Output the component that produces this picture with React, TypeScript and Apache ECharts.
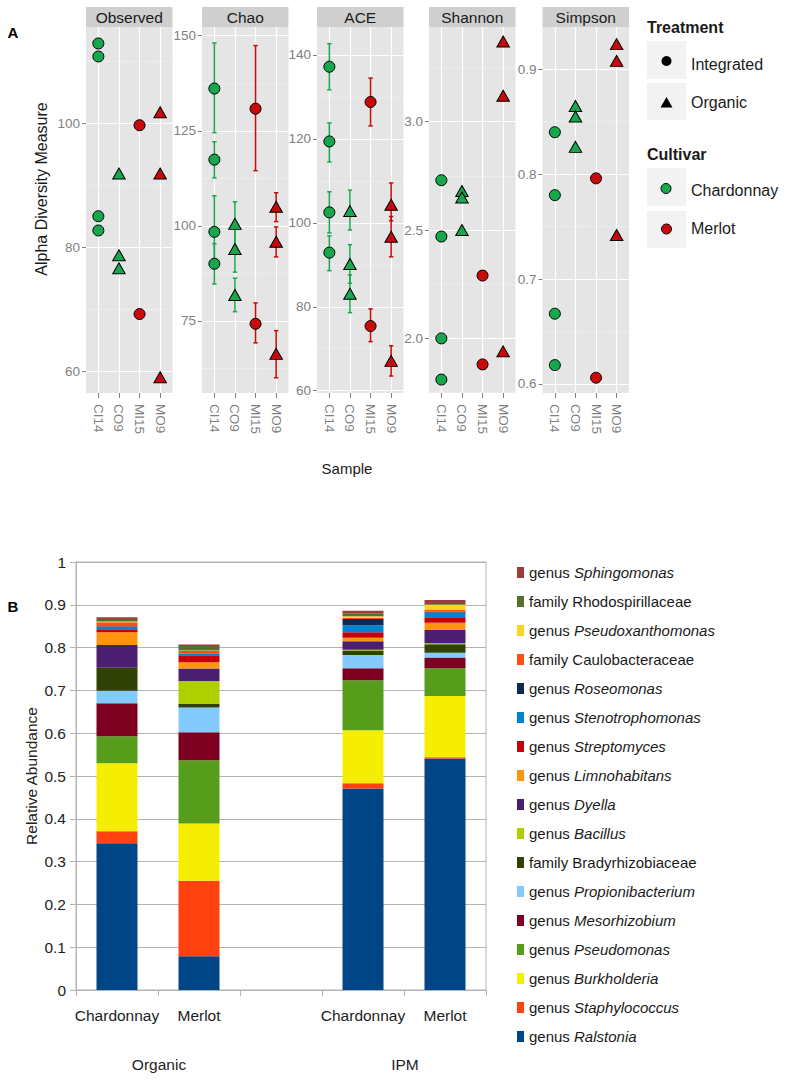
import React, { useEffect, useRef } from 'react';
import * as echarts from 'echarts';

// ---------- Panel A data ----------
const samples = ['CI14', 'CO9', 'MI15', 'MO9'];
const metrics = ['Observed', 'Chao', 'ACE', 'Shannon', 'Simpson'];

// [sample, value]
const observedRows: any[] = [
  ['CI14', 112.9], ['CI14', 110.8], ['CI14', 85.0], ['CI14', 82.7],
  ['CO9', 91.9], ['CO9', 78.7], ['CO9', 76.6],
  ['MI15', 99.7], ['MI15', 69.2],
  ['MO9', 101.8], ['MO9', 91.9], ['MO9', 59.0],
];
// [sample, value, low, high]
const chaoRows: any[] = [
  ['CI14', 136.1, 124.5, 148.1], ['CI14', 117.4, 112.6, 122.1], ['CI14', 98.4, 89.0, 107.9], ['CI14', 90.0, 84.7, 95.3],
  ['CO9', 100.5, 94.7, 106.3], ['CO9', 93.9, 87.8, 100.0], ['CO9', 81.8, 77.4, 86.2],
  ['MI15', 130.8, 114.5, 147.4], ['MI15', 74.2, 69.2, 79.7],
  ['MO9', 105.0, 101.1, 108.7], ['MO9', 95.8, 91.8, 99.7], ['MO9', 66.3, 60.0, 72.4],
];
const aceRows: any[] = [
  ['CI14', 137.2, 131.7, 142.7], ['CI14', 119.4, 114.5, 123.8], ['CI14', 102.5, 97.6, 107.4], ['CI14', 92.9, 88.6, 96.9],
  ['CO9', 102.8, 98.3, 107.8], ['CO9', 90.2, 85.6, 94.8], ['CO9', 83.1, 78.6, 87.6],
  ['MI15', 128.8, 123.1, 134.5], ['MI15', 75.4, 71.7, 79.5],
  ['MO9', 104.3, 100.5, 109.5], ['MO9', 96.7, 91.9, 101.5], ['MO9', 67.1, 63.5, 70.7],
];
const shannonRows: any[] = [
  ['CI14', 2.73], ['CI14', 2.47], ['CI14', 2.00], ['CI14', 1.81],
  ['CO9', 2.68], ['CO9', 2.65], ['CO9', 2.50],
  ['MI15', 2.29], ['MI15', 1.88],
  ['MO9', 3.37], ['MO9', 3.12], ['MO9', 1.94],
];
const simpsonRows: any[] = [
  ['CI14', 0.840], ['CI14', 0.780], ['CI14', 0.667], ['CI14', 0.618],
  ['CO9', 0.865], ['CO9', 0.855], ['CO9', 0.826],
  ['MI15', 0.796], ['MI15', 0.606],
  ['MO9', 0.924], ['MO9', 0.908], ['MO9', 0.742],
];
const metricRows = [observedRows, chaoRows, aceRows, shannonRows, simpsonRows];

const observedTicks = [60, 80, 100];
const chaoTicks = [75, 100, 125, 150];
const aceTicks = [60, 80, 100, 120, 140];
const shannonTicks = [2.0, 2.5, 3.0];
const simpsonTicks = [0.6, 0.7, 0.8, 0.9];
const metricTicks = [observedTicks, chaoTicks, aceTicks, shannonTicks, simpsonTicks];
const metricMinor = [[70, 90, 110], [62.5, 87.5, 112.5, 137.5], [70, 90, 110, 130], [1.75, 2.25, 2.75, 3.25], [0.65, 0.75, 0.85]];
const metricExtent = [[56.45, 115.56], [56.0, 152.3], [59.45, 146.67], [1.748, 3.437], [0.5914, 0.9403]];
const metricDecimals = [0, 0, 0, 1, 1];

// ---------- Panel B data ----------
const barSlots = ['Organic Chardonnay', 'Organic Merlot', '', 'IPM Chardonnay', 'IPM Merlot'];
const taxa = [
  'genus Ralstonia', 'genus Staphylococcus', 'genus Burkholderia', 'genus Pseudomonas',
  'genus Mesorhizobium', 'genus Propionibacterium', 'family Bradyrhizobiaceae', 'genus Bacillus',
  'genus Dyella', 'genus Limnohabitans', 'genus Streptomyces', 'genus Stenotrophomonas',
  'genus Roseomonas', 'family Caulobacteraceae', 'genus Pseudoxanthomonas', 'family Rhodospirillaceae',
  'genus Sphingomonas',
];
const organicChardonnay = [0.343, 0.028, 0.159, 0.063, 0.077, 0.029, 0.054, 0.000, 0.053, 0.030, 0.007, 0.006, 0.001, 0.009, 0.002, 0.006, 0.004];
const organicMerlot = [0.079, 0.176, 0.134, 0.148, 0.065, 0.058, 0.008, 0.054, 0.029, 0.015, 0.016, 0.004, 0.001, 0.005, 0.001, 0.011, 0.003];
const ipmChardonnay = [0.471, 0.012, 0.124, 0.117, 0.028, 0.031, 0.010, 0.002, 0.020, 0.008, 0.013, 0.016, 0.015, 0.003, 0.003, 0.007, 0.006];
const ipmMerlot = [0.541, 0.003, 0.143, 0.065, 0.025, 0.011, 0.020, 0.002, 0.031, 0.017, 0.013, 0.011, 0.002, 0.004, 0.012, 0.002, 0.009];

const taxaColors = [
  '#004586', '#FF420E', '#F6EE00', '#579D1C', '#7E0021', '#83CAFF', '#314004', '#AECF00',
  '#4B1F6F', '#FF950E', '#C5000B', '#0084D1', '#0D2A52', '#FF4E18', '#FFD320', '#566F2A', '#9E3B3B',
];

const FONT = '"Liberation Sans", Arial, Helvetica, sans-serif';
const GREEN = '#17A84E';
const RED = '#C80A0A';
const GREY50 = '#7F7F7F';

const facetLefts = [86, 202, 317, 429, 542.5];
const FACET_W = 86.5;
const FACET_TOP = 27;
const FACET_H = 366;

function sampleColor(idx: number) {
  return idx <= 2 ? GREEN : RED;
}

function buildOption() {
  const grid: any[] = facetLefts.map((l) => ({
    left: l, top: FACET_TOP, width: FACET_W, height: FACET_H,
    show: true, backgroundColor: '#E5E5E5', borderWidth: 0,
  }));
  grid.push({ left: 76, top: 562, width: 410, height: 428, show: true, backgroundColor: '#fff', borderColor: '#B3B3B3', borderWidth: 1 });

  const xAxis: any[] = metrics.map((_, i) => ({
    type: 'value', gridIndex: i, min: 0.4, max: 4.6,
    axisLine: { show: false },
    axisTick: { show: true, length: 5, customValues: [1, 2, 3, 4], lineStyle: { color: GREY50 } },
    axisLabel: {
      customValues: [1, 2, 3, 4], rotate: -90, margin: 11, color: GREY50, fontSize: 13.5, fontFamily: FONT,
      formatter: (v: number) => samples[Math.round(v) - 1] || '',
    },
    splitLine: { show: true, lineStyle: { color: '#FFFFFF', width: 1.2 } },
  }));
  xAxis.push({
    type: 'category', gridIndex: 5, data: barSlots,
    axisLine: { lineStyle: { color: '#B3B3B3' } },
    axisTick: { show: true, length: 6, lineStyle: { color: '#B3B3B3' } },
    axisLabel: {
      margin: 17, color: '#222', fontSize: 15.5, fontFamily: FONT, interval: 0,
      formatter: (v: string) => v.split(' ').slice(1).join(' '),
    },
    splitLine: { show: false },
  });

  const yAxis: any[] = [];
  metrics.forEach((_, i) => {
    const [mn, mx] = metricExtent[i];
    yAxis.push({
      type: 'value', gridIndex: i, min: mn, max: mx,
      axisLine: { show: false },
      axisTick: { show: true, length: 4, customValues: metricTicks[i], lineStyle: { color: GREY50 } },
      axisLabel: {
        customValues: metricTicks[i], margin: 6, color: GREY50, fontSize: 13.5, fontFamily: FONT,
        formatter: (v: number) => v.toFixed(metricDecimals[i]),
      },
      splitLine: { show: true, lineStyle: { color: '#FFFFFF', width: 1.2 } },
    });
    yAxis.push({
      type: 'value', gridIndex: i, min: mn, max: mx, position: 'left',
      axisLine: { show: false },
      axisTick: { show: false, customValues: metricMinor[i] },
      axisLabel: { show: false },
      splitLine: { show: true, lineStyle: { color: '#F2F2F2', width: 0.6 } },
    });
  });
  yAxis.push({
    type: 'value', gridIndex: 5, min: 0, max: 1, interval: 0.1,
    axisLine: { show: true, lineStyle: { color: '#B3B3B3' } },
    axisTick: { show: true, length: 6, lineStyle: { color: '#B3B3B3' } },
    axisLabel: {
      margin: 10, color: '#222', fontSize: 15.5, fontFamily: FONT,
      formatter: (v: number) => String(Math.round(v * 10) / 10),
    },
    splitLine: { show: true, lineStyle: { color: '#B3B3B3' } },
  });

  const series: any[] = [];
  metrics.forEach((m, i) => {
    const rows = metricRows[i];
    const hasErr = rows[0].length > 2;
    if (hasErr) {
      series.push({
        type: 'custom', name: m + ' error', xAxisIndex: i, yAxisIndex: 2 * i, z: 2,
        dimensions: ['x', 'y', 'lo', 'hi'], encode: { x: 0, y: 1 },
        data: rows.map((r) => [samples.indexOf(r[0]) + 1, r[1], r[2], r[3]]),
        renderItem: (params: any, api: any) => {
          const x = api.value(0);
          const lo = api.coord([x, api.value(2)]);
          const hi = api.coord([x, api.value(3)]);
          const c = sampleColor(x);
          const st = { stroke: c, lineWidth: 1.5 };
          const cap = 2.2;
          return {
            type: 'group', children: [
              { type: 'line', shape: { x1: lo[0], y1: lo[1], x2: hi[0], y2: hi[1] }, style: st },
              { type: 'line', shape: { x1: lo[0] - cap, y1: lo[1], x2: lo[0] + cap, y2: lo[1] }, style: st },
              { type: 'line', shape: { x1: hi[0] - cap, y1: hi[1], x2: hi[0] + cap, y2: hi[1] }, style: st },
            ],
          };
        },
      });
    }
    samples.forEach((s, si) => {
      const organic = s.charAt(1) === 'O';
      series.push({
        type: 'scatter', name: m + ' ' + s, xAxisIndex: i, yAxisIndex: 2 * i, z: 3,
        symbol: organic ? 'triangle' : 'circle',
        symbolSize: organic ? [12.5, 11] : 11,
        itemStyle: { color: sampleColor(si + 1), borderColor: '#000', borderWidth: 1, opacity: 1 },
        data: rows.filter((r) => r[0] === s).map((r) => [si + 1, r[1]]),
      });
    });
  });

  const columns = [organicChardonnay, organicMerlot, null, ipmChardonnay, ipmMerlot];
  taxa.forEach((t, ti) => {
    series.push({
      type: 'bar', name: t, xAxisIndex: 5, yAxisIndex: 10, stack: 'abundance', barWidth: '50%',
      itemStyle: { color: taxaColors[ti] },
      data: columns.map((col) => (col ? col[ti] : '-')),
    });
  });

  const txt = (text: string, x: number, y: number, extra: any = {}, style: any = {}) => ({
    type: 'text', x, y, ...extra,
    style: { text, fontFamily: FONT, fontSize: 16, fill: '#1A1A1A', align: 'center', verticalAlign: 'middle', ...style },
  });

  const graphic: any[] = [];
  metrics.forEach((m, i) => {
    graphic.push({ type: 'rect', shape: { x: facetLefts[i], y: 7, width: FACET_W, height: 20 }, style: { fill: '#CFCFCF' } });
    graphic.push(txt(m, facetLefts[i] + FACET_W / 2, 17.5, {}, { fontSize: 15.5 }));
  });
  graphic.push(txt('A', 13, 32, {}, { fontWeight: 'bold', fontSize: 15, fill: '#000' }));
  graphic.push(txt('B', 13, 606, {}, { fontWeight: 'bold', fontSize: 15, fill: '#000' }));
  graphic.push(txt('Alpha Diversity Measure', 41.5, 189, { rotation: Math.PI / 2 }, { fontSize: 16 }));
  graphic.push(txt('Sample', 347, 468, {}, { fontSize: 15 }));
  // legend A
  graphic.push(txt('Treatment', 647, 27, {}, { fontWeight: 'bold', align: 'left', fontSize: 16 }));
  graphic.push(txt('Cultivar', 647, 154, {}, { fontWeight: 'bold', align: 'left', fontSize: 16 }));
  [[41, 79], [83, 120], [168, 206], [211, 248]].forEach(([y0, y1]) => {
    graphic.push({ type: 'rect', shape: { x: 647, y: y0, width: 39, height: y1 - y0 }, style: { fill: '#F2F2F2' } });
  });
  graphic.push({ type: 'circle', shape: { cx: 666.5, cy: 61, r: 5 }, style: { fill: '#000' } });
  graphic.push({ type: 'polygon', shape: { points: [[666.5, 97], [672.5, 107.5], [660.5, 107.5]] }, style: { fill: '#000' } });
  graphic.push({ type: 'circle', shape: { cx: 666, cy: 188.5, r: 5 }, style: { fill: GREEN, stroke: '#000', lineWidth: 1 } });
  graphic.push({ type: 'circle', shape: { cx: 666.5, cy: 229, r: 5 }, style: { fill: RED, stroke: '#000', lineWidth: 1 } });
  graphic.push(txt('Integrated', 691, 64, {}, { align: 'left' }));
  graphic.push(txt('Organic', 691, 102, {}, { align: 'left' }));
  graphic.push(txt('Chardonnay', 691, 190, {}, { align: 'left' }));
  graphic.push(txt('Merlot', 691, 228, {}, { align: 'left' }));
  // panel B texts
  graphic.push(txt('Relative Abundance', 31, 776, { rotation: Math.PI / 2 }, { fontSize: 15.5, fill: '#222' }));
  graphic.push(txt('Organic', 159, 1064, {}, { fontSize: 15.5, fill: '#222' }));
  graphic.push(txt('IPM', 405, 1064, {}, { fontSize: 15.5, fill: '#222' }));

  const legend = {
    orient: 'vertical', left: 517, top: 563, padding: 0,
    itemWidth: 7, itemHeight: 11, itemGap: 10, icon: 'rect', selectedMode: false,
    data: [...taxa].reverse(),
    formatter: (name: string) => {
      if (name.startsWith('family')) return '{n|' + name + '}';
      return '{n|genus }{i|' + name.slice(6) + '}';
    },
    textStyle: {
      fontFamily: FONT, fontSize: 15, color: '#1A1A1A', lineHeight: 19,
      rich: {
        n: { fontFamily: FONT, fontSize: 15, color: '#1A1A1A', lineHeight: 19 },
        i: { fontFamily: FONT, fontSize: 15, color: '#1A1A1A', lineHeight: 19, fontStyle: 'italic' },
      },
    },
  };

  return { animation: false, backgroundColor: '#FFFFFF', grid, xAxis, yAxis, series, graphic, legend };
}

export default function App() {
  const ref = useRef<HTMLDivElement>(null);
  useEffect(() => {
    if (!ref.current) return;
    const chart = echarts.init(ref.current, undefined, { renderer: 'svg' });
    chart.setOption(buildOption() as any);
    return () => chart.dispose();
  }, []);
  return <div ref={ref} style={{ position: 'absolute', left: 0, top: 0, width: 785, height: 1080 }} />;
}
